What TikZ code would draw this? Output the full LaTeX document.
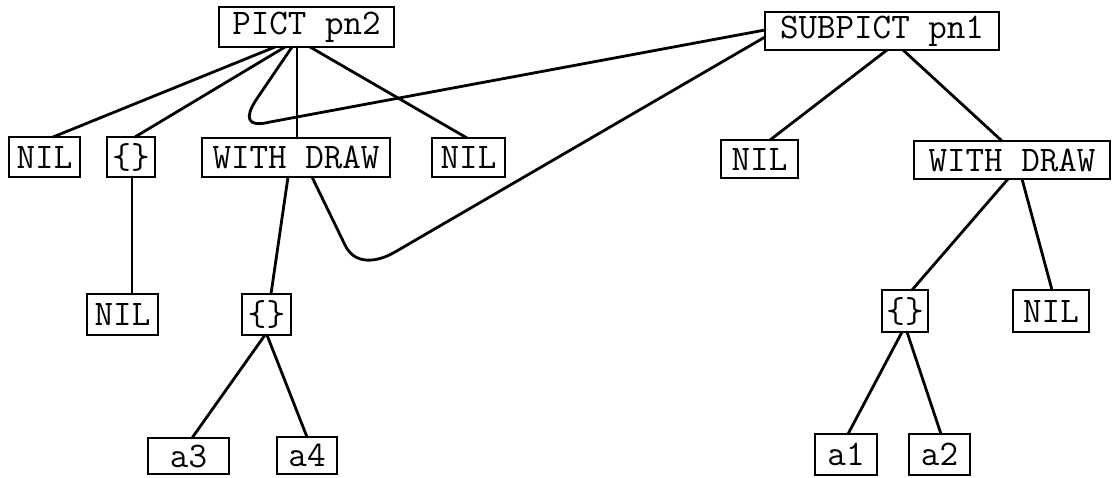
\documentclass[tikz,border=0pt]{standalone}
\usetikzlibrary{calc}
\begin{document}
\begin{tikzpicture}[x=0.5pt,y=-0.5pt,
  box/.style={draw, line width=1.2pt, inner sep=0pt, outer sep=0pt,
    font=\ttfamily\fontsize{18}{18}\selectfont},
  link/.style={line width=1.4pt, line join=round, line cap=round}]
  \useasboundingbox (0,0) rectangle (1112,477);

  % top level records
  \node[box, minimum width=87.5pt, minimum height=20pt] (pict) at (306.5,27) {PICT pn2};
  \node[box, minimum width=117pt, minimum height=19pt] (subpict) at (882,31) {SUBPICT pn1};

  % fields of PICT pn2
  \node[box, minimum width=35.5pt, minimum height=20pt] (nilA) at (44.5,157) {NIL};
  \node[box, minimum width=24pt, minimum height=20pt] (setA) at (131,157) {\{\}};
  \node[box, minimum width=94pt, minimum height=19.5pt] (drawA) at (296,157.5) {WITH DRAW};
  \node[box, minimum width=36.5pt, minimum height=19.5pt] (nilB) at (468.5,157.5) {NIL};

  % fields of SUBPICT pn1
  \node[box, minimum width=38.5pt, minimum height=19pt] (nilC) at (759.5,159) {NIL};
  \node[box, minimum width=98pt, minimum height=19pt] (drawB) at (1012,160) {WITH DRAW};

  % second level
  \node[box, minimum width=35.5pt, minimum height=20.5pt] (nilD) at (122.5,314.5) {NIL};
  \node[box, minimum width=24.5pt, minimum height=20.5pt] (setB) at (266.5,314.5) {\{\}};
  \node[box, minimum width=23pt, minimum height=21pt] (setC) at (905,311) {\{\}};
  \node[box, minimum width=38pt, minimum height=21pt] (nilE) at (1051,311) {NIL};

  % leaves
  \node[box, minimum width=40.5pt, minimum height=18pt] (aThree) at (188.5,456) {a3};
  \node[box, minimum width=30pt, minimum height=18.5pt] (aFour) at (307,455.5) {a4};
  \node[box, minimum width=31pt, minimum height=20.5pt] (aOne) at (846,454.5) {a1};
  \node[box, minimum width=30.5pt, minimum height=20.5pt] (aTwo) at (939.5,454.5) {a2};

  % PICT pn2 children
  \draw[link] ($(pict.south)+(-31.5,0)$) -- ($(nilA.north)+(8.5,0)$);
  \draw[link] ($(pict.south)+(-21.5,0)$) -- ($(setA.north)+(4,0)$);
  \draw[link] ($(pict.south)+(-9.5,0)$) -- ($(drawA.north)+(1,0)$);
  \draw[link] ($(pict.south)+(3.5,0)$) -- ($(nilB.north)+(-1.5,0)$);

  % reference from PICT pn2 to SUBPICT pn1
  \draw[link] ($(pict.south)+(-14.5,0)$) -- (256,100)
    .. controls (245,117) and (246,128) .. (270,122)
    -- ($(subpict.west)+(0,-1)$);

  % SUBPICT pn1 children
  \draw[link] ($(subpict.south)+(5,0)$) -- ($(nilC.north)+(10.5,0)$);
  \draw[link] ($(subpict.south)+(21,0)$) -- ($(drawB.north)+(-10,0)$);

  % WITH DRAW of PICT pn2
  \draw[link] ($(drawA.south)+(-8,0)$) -- ($(setB.north)+(4.5,0)$);
  \draw[link] ($(drawA.south)+(16,0)$) -- (345,245)
    .. controls (355,266) and (378,262) .. (395,252)
    -- ($(subpict.west)+(0,6)$);

  % set fields
  \draw[link] ($(setA.south)+(1,0)$) -- ($(nilD.north)+(9.5,0)$);
  \draw[link] ($(setB.south)+(-1.5,0)$) -- ($(aThree.north)+(3.5,0)$);
  \draw[link] ($(setB.south)+(0.5,0)$) -- ($(aFour.north)+(0,0)$);

  % WITH DRAW of SUBPICT pn1
  \draw[link] ($(drawB.south)+(-4,0)$) -- ($(setC.north)+(7,0)$);
  \draw[link] ($(drawB.south)+(10,0)$) -- ($(nilE.north)+(1,0)$);
  \draw[link] ($(setC.south)+(-3,0)$) -- ($(aOne.north)+(2,0)$);
  \draw[link] ($(setC.south)+(2,0)$) -- ($(aTwo.north)+(1.5,0)$);
\end{tikzpicture}
\end{document}
